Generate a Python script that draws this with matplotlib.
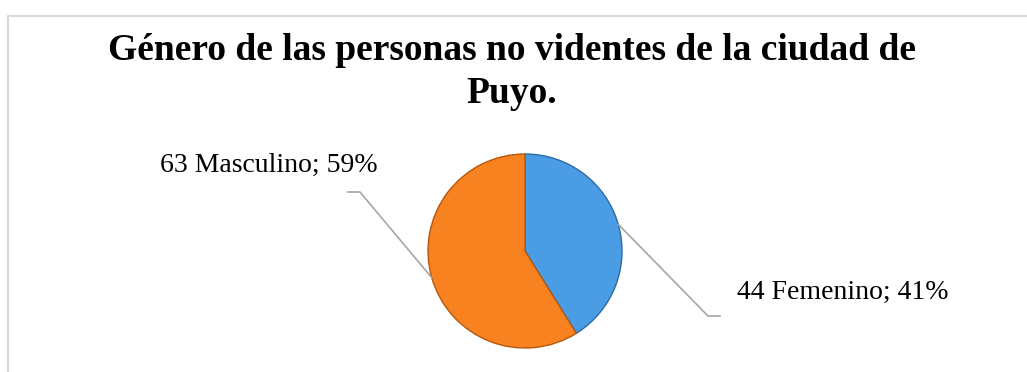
import numpy as np
import matplotlib.pyplot as plt

# data
categorias = ['Femenino', 'Masculino']
valores = [44, 63]
colores = ['#4a9de4', '#f7821f']
bordes = ['#2c6aa6', '#b5570d']

titulo = 'Género de las personas no videntes de la ciudad de\nPuyo.'

plt.rcParams['font.family'] = ['Liberation Serif', 'DejaVu Serif']

fig = plt.figure(figsize=(10.27, 3.72), dpi=100)
ax = fig.add_axes([0, 0, 1, 1])

# chart frame (top and left edges visible)
ax.plot([8, 8, 1027], [0, 356, 356], color='#d9d9d9', lw=1.5, solid_capstyle='butt')

cx, cy, r = 525, 121, 97
wedges, _ = ax.pie(valores, colors=colores, startangle=90, counterclock=False,
                   center=(cx, cy), radius=r, frame=True,
                   wedgeprops=dict(linewidth=1.0))
for w, b in zip(wedges, bordes):
    w.set_edgecolor(b)
ax.set_xlim(0, 1027)
ax.set_ylim(0, 372)
ax.set_aspect('equal')
ax.axis('off')

total = sum(valores)
ang = 90
for i, (cat, v) in enumerate(zip(categorias, valores)):
    frac = v / total
    mid = np.deg2rad(ang - frac * 360 / 2)
    ang -= frac * 360
    px, py = cx + r * np.cos(mid), cy + r * np.sin(mid)
    etiqueta = f'{v} {cat}; {round(frac * 100)}%'
    if np.cos(mid) > 0:
        ex, ey = 708, 56
        ax.plot([px, ex, ex + 12], [py, ey, ey], color='#a6a6a6', lw=1.2)
        ax.text(737, 80, etiqueta, fontsize=20, ha='left', va='center')
    else:
        ex, ey = 360, 180
        ax.plot([px, ex, ex - 12], [py, ey, ey], color='#a6a6a6', lw=1.2)
        ax.text(378, 207, etiqueta, fontsize=20, ha='right', va='center')

ax.text(512, 339, titulo, fontsize=27, fontweight='bold', ha='center', va='top',
        linespacing=1.28)

fig.savefig('out.png', dpi=100)
